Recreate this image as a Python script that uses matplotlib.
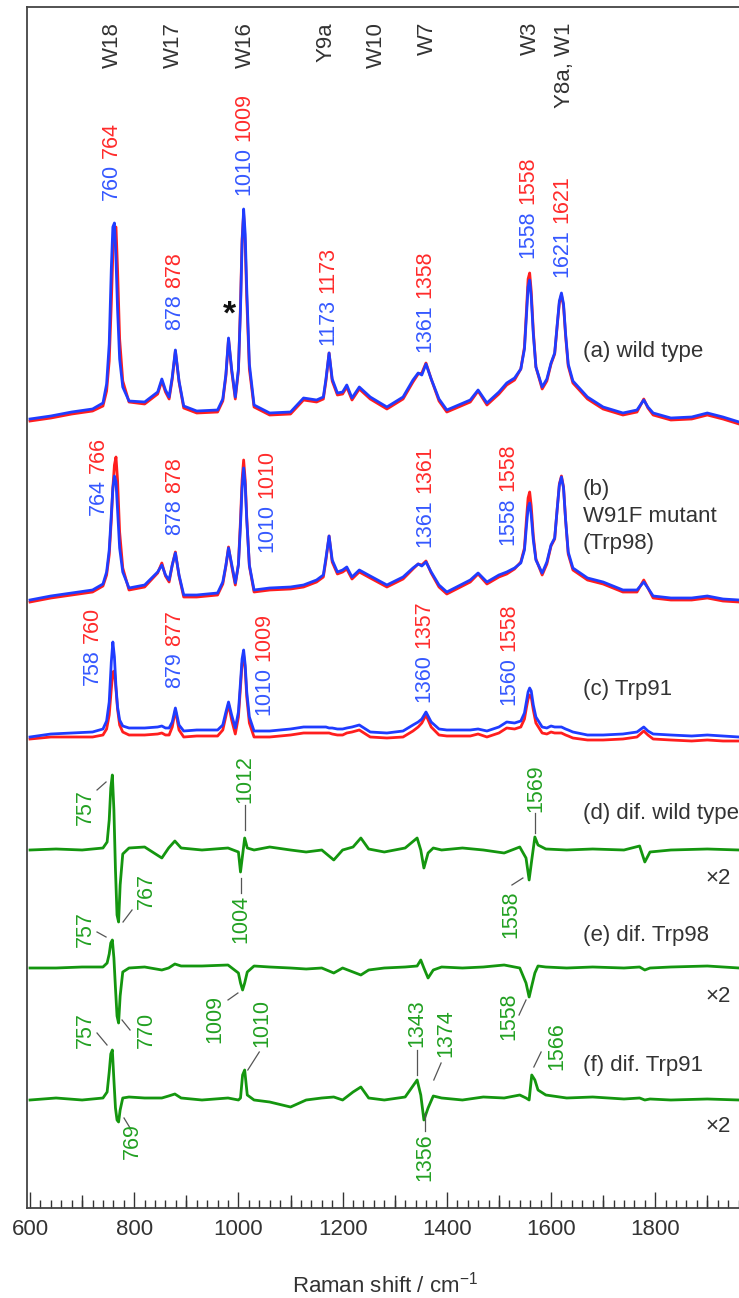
import matplotlib
matplotlib.use("Agg")
import matplotlib.pyplot as plt
from matplotlib.ticker import MultipleLocator, FixedLocator

plt.rcParams["font.family"] = ["Liberation Sans", "DejaVu Sans"]
plt.rcParams["mathtext.fontset"] = "custom"
plt.rcParams["mathtext.rm"] = "Liberation Sans"
plt.rcParams["mathtext.it"] = "Liberation Sans"

# ---------------- data ----------------
# Raman shift grid (cm-1) shared by the measured spectra (a)-(c)
shift_abc = [600, 640, 680, 720, 740, 747, 752, 756, 759, 762, 765, 768, 772, 778, 790,
             820, 845, 853, 860, 867, 873, 879, 886, 895, 920, 960,
             970, 976, 981, 987, 994, 1000, 1004, 1007, 1010, 1013, 1016, 1021, 1030, 1060,
             1100, 1125, 1150, 1163, 1168, 1174, 1180, 1190, 1200, 1208, 1218, 1232, 1253, 1285, 1316,
             1335, 1345, 1352, 1360, 1370, 1385, 1400, 1445, 1460, 1477, 1500, 1515, 1530, 1542,
             1549, 1553, 1556, 1559, 1562, 1566, 1571, 1583, 1592, 1600, 1607, 1612, 1616, 1620, 1624, 1628, 1633, 1642,
             1670, 1700, 1738, 1765, 1778, 1786, 1796, 1830, 1870, 1900, 1930, 1961]

# (a) wild type (blue / red)
wt_blue = [0, 3, 7, 10, 16, 35, 75, 150, 192, 196, 160, 110, 60, 32, 18,
           17, 27, 40, 29, 22, 42, 69, 38, 13, 8, 9,
           20, 45, 81, 50, 22, 50, 110, 175, 210, 185, 130, 55, 14, 6,
           7, 21, 19, 22, 40, 66, 40, 26, 27, 34, 21, 32, 22, 12, 22,
           39, 46, 44, 55, 40, 20, 9, 19, 29, 16, 27, 36, 41, 50,
           70, 105, 132, 139, 122, 85, 52, 32, 40, 56, 66, 95, 118, 126, 115, 85, 55, 38,
           22, 12, 6, 9, 19, 12, 6, 1, 2, 6, 2, -3]
wt_red = [-2, 1, 5, 8, 13, 28, 58, 115, 165, 190, 192, 150, 80, 38, 17,
          15, 25, 38, 27, 20, 40, 68, 37, 11, 6, 7,
          18, 43, 80, 48, 20, 48, 115, 180, 205, 175, 120, 50, 12, 4,
          5, 19, 17, 20, 38, 66, 38, 24, 25, 32, 19, 30, 20, 10, 20,
          37, 45, 46, 56, 40, 18, 7, 17, 28, 14, 25, 34, 39, 50,
          72, 110, 140, 146, 128, 88, 52, 30, 38, 55, 65, 94, 116, 124, 113, 83, 53, 36,
          20, 10, 4, 7, 20, 11, 4, -1, 0, 4, 0, -5]

# (b) W91F mutant (Trp98)
trp98_blue = [0, 4, 7, 10, 16, 28, 50, 85, 112, 124, 118, 90, 52, 28, 12,
              15, 28, 35, 25, 20, 35, 47, 25, 5, 5, 7,
              18, 35, 52, 36, 17, 35, 75, 112, 132, 115, 80, 35, 10, 12,
              13, 15, 20, 25, 42, 64, 40, 28, 30, 33, 23, 30, 24, 15, 23,
              32, 36, 34, 38, 28, 15, 8, 20, 27, 18, 25, 28, 32, 37,
              50, 75, 92, 97, 85, 60, 40, 27, 38, 55, 62, 92, 115, 123, 112, 80, 48, 32,
              22, 18, 10, 10, 18, 12, 4, 2, 2, 4, 1, 0]
trp98_red = [-2, 2, 5, 8, 14, 25, 45, 80, 112, 135, 143, 120, 68, 32, 10,
             13, 27, 37, 24, 18, 35, 48, 24, 3, 3, 5,
             16, 34, 53, 34, 15, 36, 80, 120, 140, 120, 82, 34, 8, 10,
             11, 13, 18, 23, 40, 64, 38, 26, 28, 31, 21, 28, 22, 13, 21,
             31, 36, 35, 39, 27, 13, 6, 18, 26, 16, 23, 26, 31, 38,
             52, 82, 102, 108, 94, 64, 41, 25, 36, 54, 61, 92, 116, 124, 113, 80, 46, 30,
             20, 16, 8, 8, 20, 12, 2, 0, 0, 2, -1, -2]

# (c) Trp91
trp91_blue = [0, 3, 4, 5, 8, 16, 35, 75, 95, 80, 50, 30, 17, 11, 9,
              9, 10, 11, 9, 9, 15, 29, 12, 6, 7, 7,
              12, 25, 35, 22, 9, 25, 55, 78, 87, 72, 45, 20, 6, 6,
              8, 10, 10, 10, 10, 9, 9, 8, 8, 9, 10, 12, 5, 4, 6,
              12, 15, 18, 25, 15, 8, 7, 7, 8, 6, 10, 15, 14, 16,
              24, 36, 45, 49, 46, 32, 20, 10, 9, 11, 10, 10, 10, 10, 9, 8, 7, 5,
              2, 2, 3, 5, 10, 6, 3, 2, 1, 2, 1, 0]
trp91_red = [-2, 0, 0, 0, 2, 8, 22, 48, 65, 66, 48, 28, 12, 5, 2,
             2, 3, 4, 2, 2, 10, 27, 7, 0, 1, 1,
             7, 21, 33, 17, 3, 20, 50, 73, 82, 68, 40, 14, 0, 0,
             2, 4, 4, 4, 4, 4, 3, 2, 2, 4, 5, 7, 0, -1, 0,
             6, 10, 14, 22, 10, 2, 1, 1, 3, 0, 4, 9, 8, 10,
             18, 30, 38, 42, 40, 27, 14, 4, 3, 5, 4, 4, 4, 4, 3, 2, 1, -1,
             -3, -3, -2, 0, 6, 2, -2, -3, -4, -3, -4, -4]

# Raman shift grid (cm-1) for the difference spectra (d)-(f)
shift_dif = [600, 650, 700, 740, 748, 752, 755, 758, 761, 764, 767, 770, 773, 778, 790,
             820, 853, 866, 878, 890, 930, 980,
             1000, 1004, 1008, 1012, 1017, 1030, 1060, 1100, 1130, 1160, 1183, 1200, 1220, 1235, 1250,
             1280, 1320, 1343, 1350, 1356, 1364, 1374, 1390, 1430, 1470, 1510, 1540,
             1552, 1558, 1563, 1569, 1575, 1590, 1630, 1680, 1740, 1770, 1780, 1790, 1830, 1900, 1961]

dif_wt = [0, 1, 0, 2, 8, 30, 62, 75, 40, -20, -65, -72, -35, -4, 2,
          3, -8, 2, 9, 2, 0, 2,
          -2, -22, -5, 12, 2, 0, 3, 0, -2, 0, -10, 0, 3, 12, 1,
          -2, 2, 12, 0, -18, -3, 2, 0, 2, 0, -3, 3,
          -8, -30, -10, 13, 5, 1, 0, 1, 0, 4, -12, -2, 0, 1, 0]
dif_trp98 = [0, 0, 1, 1, 5, 14, 25, 28, 10, -20, -48, -55, -28, -4, 0,
             1, -2, 0, 4, 2, 2, 3,
             -5, -15, -22, -15, -4, 2, 1, 0, -1, 0, -5, 0, -4, -7, -2,
             0, 1, 2, 8, 0, -10, -2, 1, 0, 1, 3, 0,
             -15, -29, -18, -5, 2, 1, 0, 1, 0, 1, -2, 0, 1, 2, 0]
dif_trp91 = [0, 2, 0, 2, 8, 28, 46, 50, 20, -8, -20, -22, -10, 2, 3,
             2, 2, 4, 6, 2, 0, 2,
             0, 2, 25, 30, 5, 0, -2, -7, 0, 2, 3, 0, 8, 13, 2,
             0, 3, 20, 5, -20, -8, 4, 2, 0, 3, 2, 5,
             2, 0, 25, 20, 10, 5, 2, 3, 1, 2, 0, 1, 0, 1, 0]

# ---------------- styles ----------------
BLUE, RED, GREEN = "#1f3cff", "#ff1e1e", "#14960f"
BLUE_T, RED_T, GREEN_T = "#3558ff", "#ff2b2b", "#22a022"
INK = "#333333"
FS = 16
FS_NUM = 15.5

W, H = 739, 1298
fig = plt.figure(figsize=(W / 100, H / 100), dpi=100)
ax_left, ax_top, ax_bottom = 27, 7, 1208
ax = fig.add_axes([ax_left / W, (H - ax_bottom) / H, (W - ax_left) / W, (ax_bottom - ax_top) / H])
ax.set_xlim(594.2, 1960.8)
ax.set_ylim(0, ax_bottom - ax_top)

# vertical offsets of the stacked spectra
off_a, off_b, off_c = 789, 608, 471
off_d, off_e, off_f = 358, 240, 108

def shifted(vals, off):
    return [v + off for v in vals]

lw = 2.0
ax.plot(shift_abc, shifted(wt_red, off_a), color=RED, lw=lw)
ax.plot(shift_abc, shifted(wt_blue, off_a), color=BLUE, lw=lw)
ax.plot(shift_abc, shifted(trp98_red, off_b), color=RED, lw=lw)
ax.plot(shift_abc, shifted(trp98_blue, off_b), color=BLUE, lw=lw)
ax.plot(shift_abc, shifted(trp91_red, off_c), color=RED, lw=lw)
ax.plot(shift_abc, shifted(trp91_blue, off_c), color=BLUE, lw=lw)
ax.plot(shift_dif, shifted(dif_wt, off_d), color=GREEN, lw=lw)
ax.plot(shift_dif, shifted(dif_trp98, off_e), color=GREEN, lw=lw)
ax.plot(shift_dif, shifted(dif_trp91, off_f), color=GREEN, lw=lw)

# ---------------- axes styling ----------------
for s in ("left", "top", "bottom"):
    ax.spines[s].set_color("#444444")
    ax.spines[s].set_linewidth(1.3)
ax.spines["right"].set_visible(False)
ax.set_yticks([])
ax.xaxis.set_major_locator(MultipleLocator(200))
ax.xaxis.set_minor_locator(MultipleLocator(20))
ax.tick_params(axis="x", which="major", direction="in", length=11.5, width=1.0, color=INK,
               labelsize=FS, labelcolor=INK, pad=8)
ax.tick_params(axis="x", which="minor", direction="in", length=5.8, width=1.0, color=INK)
sec = ax.secondary_xaxis("bottom")
sec.xaxis.set_major_locator(FixedLocator([700, 900, 1100, 1300, 1500, 1700, 1900]))
sec.tick_params(axis="x", direction="in", length=9.3, width=1.0, color=INK, labelbottom=False)
sec.spines["bottom"].set_visible(False)

fig.text(385 / W, 1 - 1285 / H, "Raman shift / cm$^{-1}$", ha="center", va="center",
         fontsize=FS, color=INK)

# ---------------- band assignments ----------------
band_names = ["W18", "W17", "W16", "Y9a", "W10", "W7", "W3", "Y8a, W1"]
band_pos = [759, 875, 1013, 1168, 1265, 1362, 1561, 1625]
for name, xp in zip(band_names, band_pos):
    ax.text(xp, 1186, name, rotation=90, ha="center", va="top", fontsize=FS, color=INK)

# ---------------- peak labels (blue / red pairs) ----------------
pair_labels = [
    ("760", "764", 757, 1008), ("878", "878", 877, 878), ("1010", "1009", 1010, 1013),
    ("1173", "1173", 1171, 863), ("1361", "1358", 1358, 856), ("1558", "1558", 1556, 950),
    ("1621", "1621", 1621, 931),
    ("764", "766", 731, 693), ("878", "878", 878, 673), ("1010", "1010", 1055, 656),
    ("1361", "1361", 1358, 661), ("1558", "1558", 1518, 663),
    ("758", "760", 719, 523), ("879", "877", 878, 520), ("1010", "1009", 1049, 493),
    ("1360", "1357", 1356, 506), ("1560", "1558", 1519, 503),
]
for b, r, xp, yp in pair_labels:
    tb = ax.text(xp, yp, b, rotation=90, ha="center", va="bottom", fontsize=FS_NUM, color=BLUE_T)
    ax.annotate(r, xy=(0.5, 1.0), xycoords=tb, xytext=(0, 4.5), textcoords="offset points",
                rotation=90, ha="center", va="bottom", fontsize=FS_NUM, color=RED_T)

ax.text(982, 893, "*", ha="center", va="center", fontsize=24, fontweight="bold", color="#111111")

# ---------------- difference-spectrum labels ----------------
# (text, x, y, vertical anchor, leader start, leader end)
dif_labels = [
    ("757", 705.6, 383, "bottom", (728.6, 418), (745.9, 426)),
    ("1012", 1012.0, 405, "bottom", (1012.0, 403), (1012.0, 378)),
    ("767", 822.6, 335, "top", (778.5, 286), (795.8, 298)),
    ("1004", 1004.0, 313, "top", (1004.0, 330), (1004.0, 315)),
    ("1558", 1523.0, 318, "top", (1525.0, 323), (1546.0, 330)),
    ("1569", 1570.0, 396, "bottom", (1570.0, 395), (1570.0, 375)),
    ("757", 705.6, 261, "bottom", (728.6, 276), (745.9, 271)),
    ("770", 822.6, 196, "top", (776.6, 188), (792.0, 178)),
    ("1009", 955.0, 165, "bottom", (980.0, 208), (999.0, 215)),
    ("1558", 1519.0, 168, "bottom", (1538.6, 193), (1552.0, 208)),
    ("757", 705.6, 160, "bottom", (728.6, 175), (747.8, 163)),
    ("769", 795.8, 85, "top", (780.4, 90), (792.0, 80)),
    ("1010", 1045.0, 161, "bottom", (1018.0, 138), (1040.0, 156)),
    ("1343", 1343.0, 161, "bottom", (1343.0, 158), (1343.0, 133)),
    ("1374", 1398.0, 151, "bottom", (1375.0, 128), (1389.0, 145)),
    ("1356", 1358.0, 75, "top", (1358.0, 95), (1358.0, 77)),
    ("1566", 1611.5, 138, "bottom", (1567.0, 141), (1581.0, 156)),
]
for t, xp, yp, va, p0, p1 in dif_labels:
    ax.text(xp, yp, t, rotation=90, ha="center", va=va, fontsize=FS_NUM, color=GREEN_T)
    ax.plot([p0[0], p1[0]], [p0[1], p1[1]], color="#555555", lw=0.9)

# ---------------- sample labels ----------------
x_lab = 1661
ax.text(x_lab, 856, "(a) wild type", ha="left", va="center", fontsize=FS, color=INK)
ax.text(x_lab, 718, "(b)", ha="left", va="center", fontsize=FS, color=INK)
ax.text(x_lab, 691, "W91F mutant", ha="left", va="center", fontsize=FS, color=INK)
ax.text(x_lab, 665, "(Trp98)", ha="left", va="center", fontsize=FS, color=INK)
ax.text(x_lab, 518, "(c) Trp91", ha="left", va="center", fontsize=FS, color=INK)
ax.text(x_lab, 395, "(d) dif. wild type", ha="left", va="center", fontsize=FS, color=INK)
ax.text(x_lab, 273, "(e) dif. Trp98", ha="left", va="center", fontsize=FS, color=INK)
ax.text(x_lab, 143, "(f) dif. Trp91", ha="left", va="center", fontsize=FS, color=INK)
for yp in (329, 211, 81):
    ax.text(1946, yp, "\u00d72", ha="right", va="center", fontsize=FS, color=INK)

fig.savefig("out.png", dpi=100)
